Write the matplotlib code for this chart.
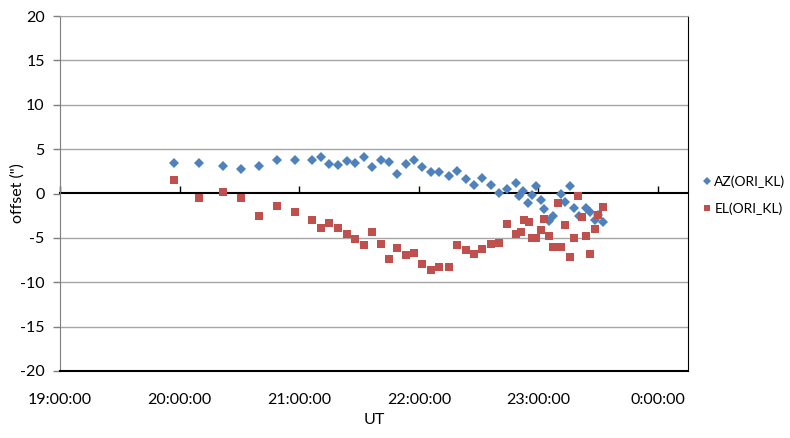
import matplotlib.pyplot as plt
from matplotlib.ticker import FixedLocator, FixedFormatter, NullFormatter

# ===== DATA (UT in decimal hours, offset in arcsec) =====
AZ_TIME = [19.956, 20.162, 20.36, 20.51, 20.66, 20.81, 20.965, 21.11, 21.18, 21.25,
           21.32, 21.40, 21.47, 21.54, 21.61, 21.68, 21.75, 21.82, 21.89, 21.96,
           22.03, 22.10, 22.17, 22.25, 22.32, 22.39, 22.46, 22.53, 22.60, 22.67,
           22.74, 22.81, 22.84, 22.87, 22.91, 22.95, 22.98, 23.02, 23.05, 23.09,
           23.12, 23.19, 23.22, 23.26, 23.30, 23.34, 23.40, 23.43, 23.47, 23.50, 23.54]
AZ_OFFSET = [3.44, 3.40, 3.13, 2.73, 3.13, 3.74, 3.81, 3.74, 4.15, 3.36,
             3.17, 3.62, 3.44, 4.15, 2.95, 3.81, 3.59, 2.23, 3.36, 3.74,
             2.99, 2.46, 2.46, 1.94, 2.57, 1.60, 0.92, 1.71, 0.99, 0.09,
             0.54, 1.22, -0.32, 0.32, -1.04, -0.20, 0.85, -0.77, -1.78, -3.10,
             -2.50, -0.09, -0.96, 0.85, -1.67, -2.53, -1.67, -2.12, -2.99, -2.46, -3.25]

EL_TIME = [19.956, 20.162, 20.36, 20.51, 20.66, 20.81, 20.965, 21.11, 21.18, 21.25,
           21.32, 21.40, 21.47, 21.54, 21.61, 21.68, 21.75, 21.82, 21.89, 21.96,
           22.03, 22.10, 22.17, 22.25, 22.32, 22.39, 22.46, 22.53, 22.60, 22.67,
           22.74, 22.81, 22.85, 22.88, 22.92, 22.95, 22.98, 23.02, 23.05, 23.09,
           23.12, 23.16, 23.19, 23.22, 23.26, 23.30, 23.33, 23.36, 23.40, 23.43,
           23.47, 23.50, 23.54]
EL_OFFSET = [1.49, -0.47, 0.13, -0.54, -2.50, -1.41, -2.08, -3.02, -3.92, -3.36,
             -3.85, -4.60, -5.09, -5.84, -4.34, -5.69, -7.34, -6.18, -6.97, -6.65,
             -7.91, -8.58, -8.25, -8.25, -5.80, -6.40, -6.78, -6.25, -5.73, -5.58,
             -3.44, -4.55, -4.34, -2.95, -3.18, -5.05, -5.05, -4.11, -2.91, -4.82,
             -6.06, -1.04, -6.06, -3.59, -7.12, -5.05, -0.28, -2.68, -4.82, -6.78,
             -4.00, -2.39, -1.49]

X_TICKS = [19, 20, 21, 22, 23, 24]
X_TICK_LABELS = ["19:00:00", "20:00:00", "21:00:00", "22:00:00", "23:00:00", "0:00:00"]
Y_TICKS = [-20, -15, -10, -5, 0, 5, 10, 15, 20]

AZ_COLOR = "#4F81BD"
EL_COLOR = "#C0504D"
GRID_COLOR = "#A6A6A6"

plt.rcParams["font.family"] = ["Lato", "DejaVu Sans"]
plt.rcParams["axes.unicode_minus"] = False

fig = plt.figure(figsize=(7.9, 4.38), dpi=100)
ax = fig.add_axes([60 / 790, 1 - 371 / 438, 628 / 790, 355 / 438])

ax.plot(AZ_TIME, AZ_OFFSET, "D", color=AZ_COLOR, markersize=5.2, markeredgewidth=0, label="AZ(ORI_KL)", zorder=3)
ax.plot(EL_TIME, EL_OFFSET, "s", color=EL_COLOR, markersize=6.3, markeredgewidth=0, label="EL(ORI_KL)", zorder=3)

ax.set_xlim(19, 24.25)
ax.set_ylim(-20, 20)
ax.xaxis.set_major_locator(FixedLocator(X_TICKS))
ax.xaxis.set_major_formatter(FixedFormatter(X_TICK_LABELS))
ax.set_yticks(Y_TICKS)

for y in Y_TICKS:
    if y not in (-20, 0):
        ax.axhline(y, color=GRID_COLOR, linewidth=1.0, zorder=1)

# zero line acts as the category axis with small upward ticks
zero_axis = ax.secondary_xaxis(0.5)
for side in ("top", "bottom"):
    zero_axis.spines[side].set_color("black")
    zero_axis.spines[side].set_linewidth(1.5)
zero_axis.xaxis.set_major_locator(FixedLocator(X_TICKS))
zero_axis.xaxis.set_major_formatter(NullFormatter())
zero_axis.tick_params(axis="x", direction="out", length=5, width=1, color="black")

ax.spines["top"].set_color(GRID_COLOR)
ax.spines["left"].set_color("#7F7F7F")
ax.spines["right"].set_color("black")
ax.spines["bottom"].set_color("black")
ax.spines["bottom"].set_linewidth(1.5)

ax.tick_params(axis="x", length=0, pad=16, labelsize=11.5)
ax.tick_params(axis="y", length=5, width=1, color="#7F7F7F", pad=6, labelsize=11.5)

ax.set_xlabel("UT", fontsize=11.5, labelpad=4)
ax.set_ylabel('offset (")', fontsize=11.5)
ax.yaxis.set_label_coords(-0.056, 0.5)

ax.legend(loc="center left", bbox_to_anchor=(1.0, 0.495), frameon=False, fontsize=10,
          handlelength=0.5, handletextpad=0.3, markerscale=0.7, labelspacing=1.0,
          borderpad=0.3, borderaxespad=0.8)

fig.savefig("out.png", dpi=100, facecolor="white")
